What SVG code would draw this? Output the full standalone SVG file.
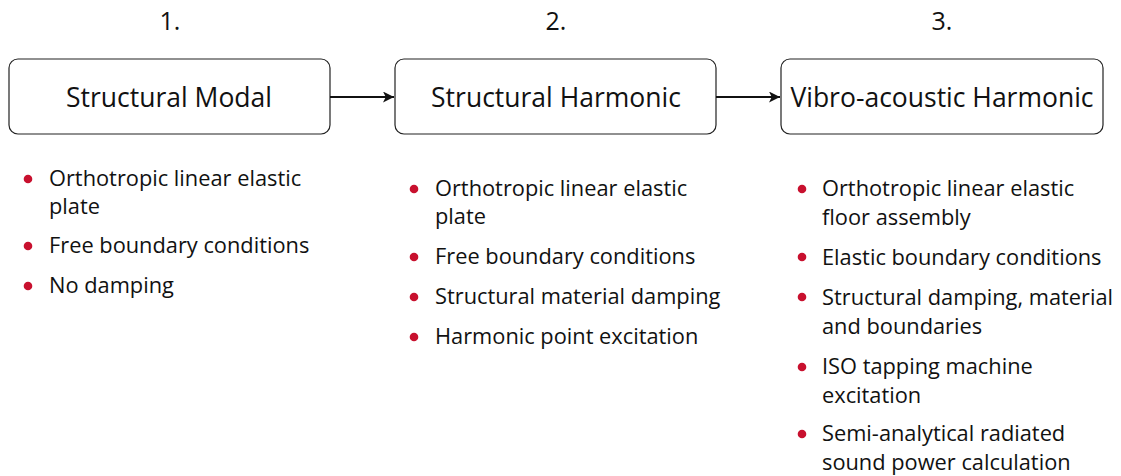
<svg xmlns="http://www.w3.org/2000/svg" width="1121" height="476" viewBox="0 0 1121 476">
  <style>
    text { font-family: "Open Sans", "Liberation Sans", sans-serif; fill: #111; }
    .num { font-size: 25px; text-anchor: middle; }
    .title { font-size: 26.5px; text-anchor: middle; }
    .item { font-size: 21.8px; }
    .box { fill: #fff; stroke: #222; stroke-width: 1.2; }
    .dot { fill: #c8102e; }
    .link { stroke: #111; stroke-width: 1.8; fill: none; }
  </style>
  <defs>
    <marker id="arrow" viewBox="0 0 10 10" refX="10" refY="5" markerWidth="12" markerHeight="11" markerUnits="userSpaceOnUse" orient="auto">
      <path d="M0,0 L10,5 L0,10 L2.5,5 Z" fill="#111"/>
    </marker>
  </defs>
  <rect width="1121" height="476" fill="#fff"/>

  <g id="step1">
    <text class="num" x="170" y="30">1.</text>
    <rect class="box" x="9" y="59" width="321" height="75" rx="9"/>
    <text class="title" x="169" y="107">Structural Modal</text>
    <circle class="dot" cx="28" cy="179" r="4.3"/>
    <text class="item" x="49" y="186">Orthotropic linear elastic</text>
    <text class="item" x="49" y="214">plate</text>
    <circle class="dot" cx="28" cy="246" r="4.3"/>
    <text class="item" x="49" y="253">Free boundary conditions</text>
    <circle class="dot" cx="28" cy="286" r="4.3"/>
    <text class="item" x="49" y="293">No damping</text>
  </g>

  <g id="step2">
    <text class="num" x="556" y="30">2.</text>
    <rect class="box" x="395" y="59" width="321" height="75" rx="9"/>
    <text class="title" x="556" y="107">Structural Harmonic</text>
    <circle class="dot" cx="414" cy="189" r="4.3"/>
    <text class="item" x="435" y="196">Orthotropic linear elastic</text>
    <text class="item" x="435" y="224">plate</text>
    <circle class="dot" cx="414" cy="257" r="4.3"/>
    <text class="item" x="435" y="264">Free boundary conditions</text>
    <circle class="dot" cx="414" cy="297" r="4.3"/>
    <text class="item" x="435" y="304">Structural material damping</text>
    <circle class="dot" cx="414" cy="337" r="4.3"/>
    <text class="item" x="435" y="344">Harmonic point excitation</text>
  </g>

  <g id="step3">
    <text class="num" x="942" y="30">3.</text>
    <rect class="box" x="781" y="59" width="322" height="75" rx="9"/>
    <text class="title" x="942" y="107">Vibro-acoustic Harmonic</text>
    <circle class="dot" cx="802" cy="189" r="4.3"/>
    <text class="item" x="822" y="196">Orthotropic linear elastic</text>
    <text class="item" x="822" y="225">floor assembly</text>
    <circle class="dot" cx="802" cy="257" r="4.3"/>
    <text class="item" x="822" y="265">Elastic boundary conditions</text>
    <circle class="dot" cx="802" cy="297" r="4.3"/>
    <text class="item" x="822" y="305">Structural damping, material</text>
    <text class="item" x="822" y="334">and boundaries</text>
    <circle class="dot" cx="802" cy="367" r="4.3"/>
    <text class="item" x="822" y="374">ISO tapping machine</text>
    <text class="item" x="822" y="403">excitation</text>
    <circle class="dot" cx="802" cy="434" r="4.3"/>
    <text class="item" x="822" y="441">Semi-analytical radiated</text>
    <text class="item" x="822" y="470">sound power calculation</text>
  </g>

  <g id="connectors">
    <line class="link" x1="330" y1="97" x2="394" y2="97" marker-end="url(#arrow)"/>
    <line class="link" x1="716" y1="97" x2="780" y2="97" marker-end="url(#arrow)"/>
  </g>
</svg>
